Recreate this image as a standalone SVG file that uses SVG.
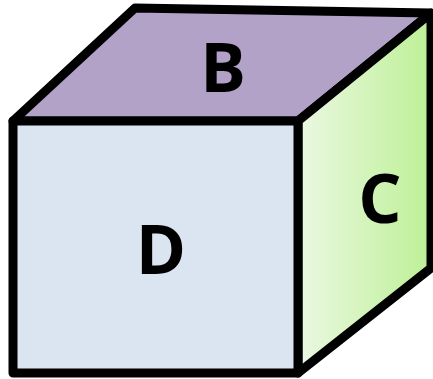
<svg xmlns="http://www.w3.org/2000/svg" width="433" height="379" viewBox="0 0 433 379">
<defs>
<linearGradient id="gC" x1="0" y1="0" x2="1" y2="0">
<stop offset="0" stop-color="#ebf8e2"/>
<stop offset="1" stop-color="#bdf096"/>
</linearGradient>
<style>
.face{stroke:#000;stroke-width:9;stroke-linejoin:round}
.lbl{font-family:"Open Sans","Liberation Sans",sans-serif;font-weight:bold;font-size:68px;fill:#000;text-anchor:middle}
</style>
</defs>
<rect width="433" height="379" fill="#fff"/>
<g id="top">
<polygon class="face" points="13,121 135,8 431,13 298,121" fill="#b2a2c7"/>
<text class="lbl" x="223" y="92">B</text>
</g>
<g id="right">
<polygon class="face" points="298,121 431,13 431,268 298,373" fill="url(#gC)"/>
<text class="lbl" x="380" y="223">C</text>
</g>
<g id="front">
<rect class="face" x="13" y="121" width="285" height="252" fill="#dbe5f1"/>
<text class="lbl" x="161" y="274">D</text>
</g>
<g id="connectors"/>
</svg>
